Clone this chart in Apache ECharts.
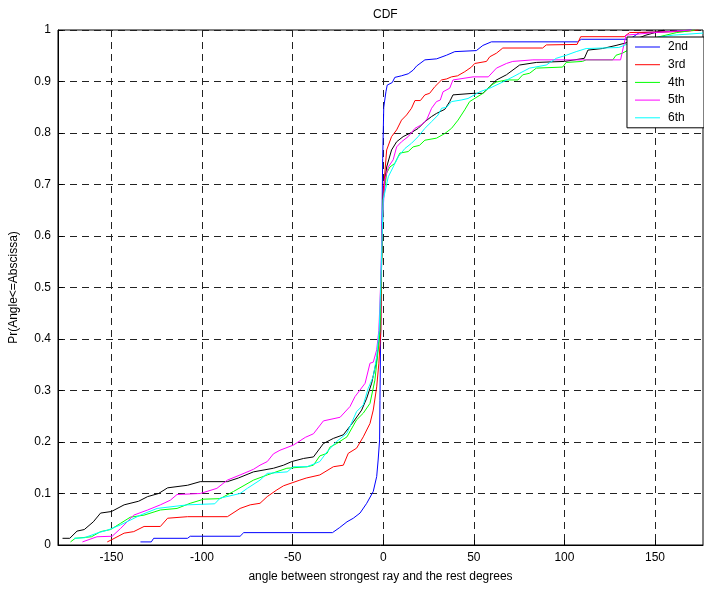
<!DOCTYPE html>
<html>
<head>
<meta charset="utf-8">
<script src="https://cdn.jsdelivr.net/npm/echarts@6/dist/echarts.min.js"></script>
<style>
html, body { margin: 0; padding: 0; background: #fff; }
#main { width: 704px; height: 590px; }
</style>
</head>
<body>
<div id="main"></div>
<script>
var myChart = echarts.init(document.getElementById('main'));

// ticks
var xTicks = [-150, -100, -50, 0, 50, 100, 150];
var legendNames = ['2nd', '3rd', '4th', '5th', '6th'];

// CDF curves, [angle, Pr]
var cdf2nd = [[-134, 0.006], [-128, 0.006], [-126.7, 0.013], [-108, 0.013], [-106.5, 0.017], [-79, 0.017],
    [-77, 0.024], [-28, 0.024], [-24, 0.034], [-20, 0.045], [-16.5, 0.052], [-12.8, 0.062], [-9.1, 0.081],
    [-5.5, 0.104], [-3.6, 0.133], [-2.8, 0.165], [-2, 0.204], [-1.8, 0.281], [-1.3, 0.45], [-0.8, 0.6],
    [-0.3, 0.75], [0.3, 0.85], [1.5, 0.88], [2.2, 0.893], [5, 0.898], [6.4, 0.908], [10, 0.911],
    [13.8, 0.915], [16.5, 0.922], [18.4, 0.93], [23, 0.942], [29.5, 0.944], [34.9, 0.951], [39.5, 0.958],
    [51.4, 0.96], [55, 0.97], [59.7, 0.977], [107.4, 0.977], [109.3, 0.982], [136, 0.982], [141.4, 0.995],
    [160, 0.997], [170, 1]];
var cdf3rd = [[-152.3, 0.006], [-150, 0.01], [-143, 0.023], [-137.7, 0.026], [-132, 0.036], [-123, 0.036],
    [-119, 0.052], [-108, 0.055], [-86, 0.055], [-79, 0.071], [-73.4, 0.078], [-68, 0.081], [-64, 0.094],
    [-58.7, 0.107], [-55, 0.115], [-46, 0.126], [-42.5, 0.13], [-35, 0.136], [-27.5, 0.152], [-22, 0.155],
    [-19.3, 0.178], [-14.7, 0.188], [-11, 0.21], [-7.3, 0.236], [-5.5, 0.262], [-3.6, 0.307], [-2.4, 0.353],
    [-1.3, 0.417], [-0.9, 0.55], [-0.4, 0.63], [0, 0.683], [1.9, 0.767], [4.6, 0.793], [7.4, 0.806],
    [10.1, 0.825], [12.9, 0.835], [15.6, 0.848], [17.5, 0.863], [20.5, 0.863], [23, 0.874], [25.6, 0.877],
    [28.5, 0.89], [32.2, 0.903], [35, 0.905], [37.7, 0.909], [41, 0.911], [45, 0.919], [48.7, 0.928],
    [50.5, 0.935], [57, 0.939], [58.8, 0.948], [62.5, 0.955], [66, 0.965], [88, 0.965], [90, 0.971],
    [107, 0.972], [109, 0.987], [133, 0.987], [136, 0.995], [166, 0.997], [174, 1]];
var cdf4th = [[-172.6, 0.006], [-170, 0.013], [-161, 0.016], [-156, 0.026], [-150.5, 0.03], [-145, 0.042],
    [-139.6, 0.054], [-132, 0.058], [-123, 0.068], [-113.8, 0.071], [-106.5, 0.081], [-99, 0.089],
    [-90, 0.09], [-82.6, 0.104], [-71.6, 0.126], [-64, 0.136], [-53.2, 0.149], [-42, 0.152], [-38.5, 0.155],
    [-35, 0.173], [-31, 0.178], [-29.4, 0.19], [-25.7, 0.197], [-20, 0.21], [-14.7, 0.243], [-11, 0.256],
    [-7.3, 0.275], [-4.6, 0.32], [-2.8, 0.379], [-1.8, 0.417], [-1.2, 0.5], [-0.6, 0.6], [0, 0.67],
    [1.9, 0.722], [3.7, 0.734], [6.4, 0.741], [9.2, 0.761], [13.8, 0.764], [16.5, 0.773], [20, 0.776],
    [23, 0.786], [29.4, 0.79], [34, 0.799], [37.7, 0.809], [41.3, 0.825], [45, 0.845], [47.7, 0.861],
    [55, 0.877], [59.7, 0.893], [62.5, 0.899], [68, 0.903], [74.4, 0.903], [77, 0.913], [80.8, 0.916],
    [84.5, 0.926], [99, 0.928], [101, 0.937], [110, 0.939], [112, 0.942], [126.7, 0.942], [128.5, 0.951],
    [132, 0.955], [140, 0.97], [150, 0.985], [162, 0.995], [172, 1]];
var cdf5th = [[-166, 0.006], [-158, 0.016], [-149.6, 0.017], [-145, 0.032], [-137.7, 0.058], [-130, 0.068],
    [-123, 0.078], [-117.5, 0.087], [-113.8, 0.098], [-101, 0.1], [-91.8, 0.11], [-86, 0.126], [-79, 0.136],
    [-71.6, 0.147], [-68, 0.155], [-64, 0.162], [-60.6, 0.177], [-57, 0.184], [-49.6, 0.194], [-43, 0.209],
    [-38.5, 0.216], [-33, 0.241], [-23.8, 0.248], [-18.3, 0.269], [-15.6, 0.288], [-12.8, 0.301],
    [-10, 0.314], [-7.3, 0.353], [-5.5, 0.355], [-3.6, 0.379], [-2.4, 0.417], [-1.5, 0.5], [-0.6, 0.618],
    [0.9, 0.709], [2.8, 0.734], [5.5, 0.748], [7.4, 0.773], [10.1, 0.783], [13.8, 0.793], [17.5, 0.809],
    [21.1, 0.816], [23.9, 0.825], [26.7, 0.848], [29.4, 0.861], [31.5, 0.864], [33, 0.88], [36.7, 0.887],
    [38.5, 0.903], [49.6, 0.909], [58, 0.909], [62.5, 0.926], [68, 0.935], [71.5, 0.939], [82.6, 0.942],
    [131, 0.942], [134, 0.99], [150, 0.995], [170, 1]];
var cdf6th = [[-170.7, 0.013], [-165, 0.014], [-158, 0.023], [-152, 0.029], [-145, 0.039], [-134, 0.058],
    [-124.8, 0.071], [-108, 0.078], [-93, 0.08], [-90, 0.091], [-79, 0.1], [-75, 0.11], [-68, 0.126],
    [-64, 0.139], [-53, 0.142], [-49.6, 0.152], [-42, 0.152], [-35, 0.162], [-31, 0.181], [-25.7, 0.201],
    [-20, 0.217], [-14.7, 0.259], [-11, 0.272], [-8.3, 0.304], [-5.5, 0.327], [-3.6, 0.366], [-2.2, 0.417],
    [-1.4, 0.5], [-0.6, 0.6], [0, 0.67], [2.8, 0.715], [5.5, 0.734], [8.3, 0.754], [12, 0.77], [15.6, 0.78],
    [19.3, 0.793], [23, 0.809], [26.7, 0.822], [30.3, 0.835], [32.2, 0.848], [35, 0.85], [37.7, 0.861],
    [43, 0.864], [46.8, 0.867], [53.3, 0.88], [58.8, 0.887], [66, 0.899], [71.6, 0.909], [75.3, 0.916],
    [80.8, 0.926], [90, 0.932], [95.5, 0.945], [101, 0.951], [106.5, 0.958], [112, 0.964], [130, 0.966],
    [140, 0.98], [160, 0.99], [176.5, 0.994]];
// black curve, not in the legend
var cdfBlack = [[-177, 0.013], [-173, 0.013], [-169, 0.027], [-165, 0.03], [-160, 0.045], [-156, 0.062],
    [-150, 0.065], [-143, 0.078], [-135, 0.085], [-130, 0.094], [-124, 0.1], [-119, 0.111], [-108, 0.116],
    [-101, 0.123], [-86, 0.123], [-80, 0.13], [-71.6, 0.142], [-60.6, 0.149], [-55, 0.155], [-50.5, 0.162],
    [-44, 0.168], [-38.5, 0.171], [-33, 0.197], [-27.5, 0.207], [-22, 0.214], [-16.5, 0.239], [-11.9, 0.262],
    [-9.1, 0.285], [-6.4, 0.314], [-3.6, 0.359], [-1.8, 0.417], [-1.2, 0.5], [-0.5, 0.6], [0, 0.683],
    [1.9, 0.734], [4.6, 0.767], [7.4, 0.783], [11, 0.793], [15.6, 0.801], [19.3, 0.809], [23, 0.822],
    [26.7, 0.832], [29.4, 0.838], [34, 0.846], [36.7, 0.861], [38.5, 0.874], [49.6, 0.877], [55, 0.877],
    [58.8, 0.89], [62.5, 0.903], [68, 0.913], [75.3, 0.932], [84.5, 0.937], [100, 0.939], [111, 0.945],
    [113, 0.961], [121, 0.964], [128.5, 0.97], [134, 0.975], [145, 0.99], [155, 1]];

var font = '"Liberation Sans", Arial, sans-serif';
var gridLine = { color: '#222', width: 1, type: [7, 5] };
// thin horizontal bar centred in a 25x12 box, used as legend icon
var lineIcon = 'path://M0,0M0,5.5H25V6.5H0ZM25,12';

function curve(name, data, color) {
    return {
        name: name,
        type: 'line',
        data: data,
        symbol: 'none',
        animation: false,
        lineStyle: { color: color, width: 1 },
        itemStyle: { color: color }
    };
}

option = {
    animation: false,
    backgroundColor: '#fff',
    textStyle: { fontFamily: font },
    title: {
        text: 'CDF',
        left: 368,
        top: 4,
        textStyle: { fontFamily: font, fontSize: 12, fontWeight: 'normal', color: '#000' }
    },
    legend: {
        data: legendNames,
        icon: lineIcon,
        orient: 'vertical',
        right: 0,
        top: 37,
        backgroundColor: '#fff',
        borderColor: '#000',
        borderWidth: 1,
        borderRadius: 0,
        padding: [4, 16, 4, 8],
        itemWidth: 25,
        itemHeight: 12,
        itemGap: 5.7,
        itemStyle: { borderWidth: 0 },
        textStyle: { fontFamily: font, fontSize: 12, color: '#000', padding: [0, 0, 0, 3] }
    },
    grid: {
        left: 57,
        right: 1,
        top: 30,
        bottom: 45,
        show: true,
        borderColor: '#000',
        borderWidth: 1
    },
    xAxis: {
        type: 'value',
        min: -179.5,
        max: 176.5,
        name: 'angle between strongest ray and the rest degrees',
        nameLocation: 'middle',
        nameGap: 26,
        nameTextStyle: { fontFamily: font, fontSize: 12, color: '#000' },
        axisLine: { onZero: false, lineStyle: { color: '#000' } },
        axisTick: { inside: true, length: 5, customValues: xTicks, lineStyle: { color: '#000' } },
        axisLabel: { customValues: xTicks, color: '#000', fontSize: 12, fontFamily: font, margin: 7 },
        splitLine: { show: true, lineStyle: gridLine }
    },
    yAxis: {
        type: 'value',
        min: 0,
        max: 1,
        interval: 0.1,
        name: 'Pr(Angle<=Abscissa)',
        nameLocation: 'middle',
        nameGap: 38,
        nameTextStyle: { fontFamily: font, fontSize: 12, color: '#000' },
        axisLine: { show: true, onZero: false, lineStyle: { color: '#000' } },
        axisTick: { show: true, inside: true, length: 5, lineStyle: { color: '#000' } },
        axisLabel: { color: '#000', fontSize: 12, fontFamily: font, margin: 7 },
        splitLine: { show: true, lineStyle: gridLine }
    },
    series: [
        curve('1st', cdfBlack, '#000000'),
        curve('2nd', cdf2nd, '#0000ff'),
        curve('3rd', cdf3rd, '#ff0000'),
        curve('4th', cdf4th, '#00ff00'),
        curve('5th', cdf5th, '#ff00ff'),
        curve('6th', cdf6th, '#00ffff')
    ]
};

myChart.setOption(option);
</script>
</body>
</html>
